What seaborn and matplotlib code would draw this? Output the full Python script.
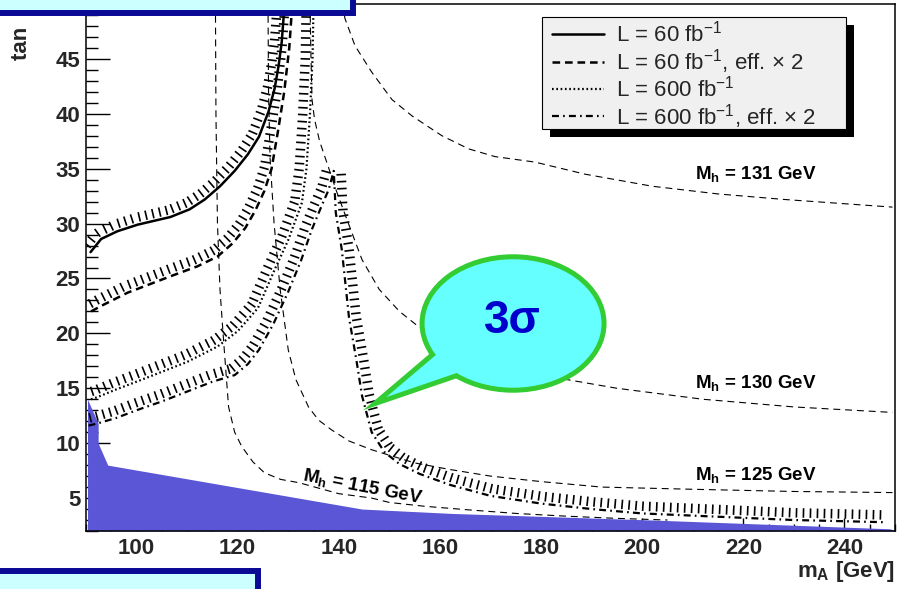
import numpy as np
import matplotlib
matplotlib.use("Agg")
import matplotlib.pyplot as plt
import seaborn as sns
from matplotlib.patches import Rectangle, Ellipse, Polygon
from matplotlib.collections import LineCollection

# ---- discovery contours (m_A [GeV], tan beta) ----
ma_60 = [90.9, 93.0, 96.2, 100.2, 106.7, 110.5, 113.5, 116.5, 119.4, 122.0,
         124.2, 126.1, 127.3, 128.1, 128.7, 129.1, 129.3]
tb_60 = [27.4, 28.6, 29.3, 29.9, 30.6, 31.3, 32.2, 33.4, 34.8, 36.3,
         37.9, 40.2, 42.3, 44.4, 46.5, 48.9, 50.0]

ma_60x2 = [91.0, 93.0, 98.2, 106.7, 112.0, 116.0, 119.0, 121.5, 123.5, 125.3,
           126.7, 128.0, 129.2, 130.2, 130.8]
tb_60x2 = [22.0, 22.5, 23.7, 25.2, 26.1, 27.0, 28.2, 29.6, 31.2, 33.0,
           35.0, 38.5, 42.0, 46.0, 50.0]

ma_600 = [91.0, 92.3, 96.0, 100.0, 105.0, 110.0, 116.0, 120.0, 124.0, 127.3,
          130.0, 132.7, 133.6, 134.3, 134.8, 135.0]
tb_600 = [14.0, 14.2, 14.9, 15.6, 16.5, 17.4, 18.8, 20.2, 22.3, 25.8,
          28.5, 31.9, 35.0, 40.0, 45.0, 50.0]

ma_600x2 = [90.5, 92.3, 96.0, 100.0, 105.0, 110.0, 115.0, 119.4, 122.0, 124.2,
            127.0, 130.0, 132.5, 134.7, 136.5, 138.0, 139.0, 139.4, 140.6, 142.0,
            143.5, 144.6, 146.5, 149.0, 152.0, 156.0, 162.0, 170.0, 180.0, 190.0,
            200.0, 215.0, 230.0, 248.0]
tb_600x2 = [11.6, 11.8, 12.3, 13.0, 13.8, 14.7, 15.6, 16.2, 17.2, 18.5,
            20.8, 23.8, 26.6, 29.5, 31.5, 33.1, 34.8, 31.0, 27.6, 21.5,
            17.5, 14.3, 11.0, 9.2, 8.1, 7.2, 6.2, 5.2, 4.5, 4.0,
            3.6, 3.3, 3.0, 2.8]

# ---- M_h iso-mass contours ----
ma_mh115 = [115.6, 115.7, 116.0, 116.5, 117.2, 118.2, 119.4, 120.8, 123.0, 125.3,
            128.5, 132.1, 140.0, 146.5, 150.0, 157.0, 165.0, 175.0, 185.0, 195.0, 205.0]
tb_mh115 = [50.0, 40.0, 30.0, 24.0, 19.4, 13.3, 11.0, 9.7, 8.3, 7.3,
            6.7, 6.4, 5.4, 5.0, 4.6, 4.25, 3.95, 3.6, 3.35, 3.15, 3.0]

ma_mh125 = [126.0, 126.1, 126.4, 127.2, 128.4, 130.0, 131.5, 134.0, 136.0, 138.6,
            142.0, 146.5, 150.0, 155.0, 162.0, 170.0, 180.0, 192.0, 210.0, 230.0, 249.5]
tb_mh125 = [50.0, 42.0, 36.0, 30.0, 24.0, 18.5, 15.8, 13.3, 12.1, 11.2,
            10.2, 9.4, 8.9, 8.2, 7.6, 7.0, 6.5, 6.0, 5.8, 5.6, 5.5]

ma_mh130 = [134.3, 134.5, 134.7, 135.2, 136.2, 137.9, 139.5, 141.5, 144.6, 148.0,
            152.0, 155.8, 162.0, 170.0, 178.0, 185.0, 195.0, 212.0, 230.0, 249.5]
tb_mh130 = [50.0, 45.0, 41.3, 39.5, 37.5, 35.2, 33.0, 30.5, 26.7, 24.0,
            22.0, 20.6, 19.0, 17.6, 16.5, 15.8, 15.0, 14.0, 13.3, 12.8]

ma_mh131 = [140.8, 141.2, 143.2, 146.5, 150.5, 154.5, 160.4, 165.7, 170.9, 178.8,
            188.7, 202.0, 215.0, 228.0, 249.5]
tb_mh131 = [50.0, 48.7, 46.2, 43.8, 41.3, 39.8, 38.0, 36.8, 36.1, 35.6,
            34.5, 33.4, 32.7, 32.2, 31.5]

# ---- theoretically excluded region ----
ma_excl = [90.3, 92.4, 92.4, 94.3, 144.6, 162.4, 202.0, 249.0, 250.0]
tb_excl = [14.0, 11.8, 10.0, 8.0, 4.0, 3.6, 3.0, 2.2, 2.05]

legend_labels = [r"L = 60 fb$^{-1}$", r"L = 60 fb$^{-1}$, eff. $\times$ 2",
                 r"L = 600 fb$^{-1}$", r"L = 600 fb$^{-1}$, eff. $\times$ 2"]
mh_labels = [r"M$_{\mathbf{h}}$ = 131 GeV", r"M$_{\mathbf{h}}$ = 130 GeV",
             r"M$_{\mathbf{h}}$ = 125 GeV", r"M$_{\mathbf{h}}$ = 115 GeV"]
x_ticks = [100, 120, 140, 160, 180, 200, 220, 240]
y_ticks = [5, 10, 15, 20, 25, 30, 35, 40, 45]

# ---------------------------------------------------------------------------
sns.set_theme(style="white")
plt.rcParams["font.family"] = ["Liberation Sans", "DejaVu Sans"]
plt.rcParams["mathtext.fontset"] = "custom"
plt.rcParams["mathtext.rm"] = "Liberation Sans"
plt.rcParams["mathtext.it"] = "Liberation Sans:italic"
plt.rcParams["mathtext.bf"] = "Liberation Sans:bold"
plt.rcParams["mathtext.sf"] = "Liberation Sans"
plt.rcParams["lines.scale_dashes"] = False
plt.rcParams["axes.unicode_minus"] = True

W, H = 898, 589
AX_L, AX_B, AX_W, AX_H = 86, 58, 809, 527
fig = plt.figure(figsize=(W / 100, H / 100), dpi=100)
fig.patch.set_facecolor("white")
ax = fig.add_axes([AX_L / W, AX_B / H, AX_W / W, AX_H / H])
ax.set_facecolor("white")
ax.set_xlim(90, 250)
ax.set_ylim(2, 50)

# excluded region
ax.fill_between(ma_excl, 2, tb_excl, color="#5a56d6", lw=0, zorder=1)

thin = dict(color="black", lw=0.8, linestyle=(0, (5.0, 3.5)), zorder=2)
for mx, ty in [(ma_mh115, tb_mh115), (ma_mh125, tb_mh125),
               (ma_mh130, tb_mh130), (ma_mh131, tb_mh131)]:
    sns.lineplot(x=mx, y=ty, sort=False, estimator=None, ax=ax, **thin)

styles = [
    dict(lw=1.8, linestyle="-"),
    dict(lw=1.8, linestyle=(0, (5.5, 3.5))),
    dict(lw=1.6, linestyle=(0, (1.2, 1.9))),
    dict(lw=1.6, linestyle=(0, (5.0, 3.0, 1.2, 3.0))),
]
curves = [(ma_60, tb_60), (ma_60x2, tb_60x2), (ma_600, tb_600), (ma_600x2, tb_600x2)]
handles = []
for (mx, ty), st in zip(curves, styles):
    sns.lineplot(x=mx, y=ty, sort=False, estimator=None, ax=ax,
                 color="black", zorder=3, **st)
    handles.append(ax.lines[-1])


def hatch(xs, ys, step=7.0, gap=2.5, length=9.5, lw=1.2):
    """Short strokes on the left-hand side of a contour (display space)."""
    P = ax.transData.transform(np.column_stack([xs, ys]))
    d = np.hypot(*np.diff(P, axis=0).T)
    s = np.concatenate([[0.0], np.cumsum(d)])
    si = np.arange(step * 0.5, s[-1], step)
    px = np.interp(si, s, P[:, 0])
    py = np.interp(si, s, P[:, 1])
    h = 3.0
    tx = np.interp(si + h, s, P[:, 0]) - np.interp(si - h, s, P[:, 0])
    ty = np.interp(si + h, s, P[:, 1]) - np.interp(si - h, s, P[:, 1])
    n = np.hypot(tx, ty)
    nx, ny = -ty / n, tx / n
    a = np.column_stack([px + nx * gap, py + ny * gap])
    b = np.column_stack([px + nx * (gap + length), py + ny * (gap + length)])
    inv = ax.transData.inverted()
    segs = np.stack([inv.transform(a), inv.transform(b)], axis=1)
    ax.add_collection(LineCollection(segs, colors="black", linewidths=lw,
                                     capstyle="butt", zorder=3))


for mx, ty in curves:
    hatch(mx, ty)

# iso-mass labels
lab_kw = dict(fontsize=13.5, fontweight="bold", color="black", zorder=6)
ax.text(210.5, 34.05, mh_labels[0], ha="left", va="baseline", **lab_kw)
ax.text(210.5, 15.05, mh_labels[1], ha="left", va="baseline", **lab_kw)
ax.text(210.5, 6.64, mh_labels[2], ha="left", va="baseline", **lab_kw)
ax.text(144.75, 6.05, mh_labels[3], ha="center", va="center",
        rotation=-11, rotation_mode="anchor", **lab_kw)

# axes styling (ROOT-like)
ax.set_xticks(x_ticks)
ax.set_xticks(np.arange(90, 251, 5), minor=True)
ax.set_yticks(y_ticks)
ax.set_yticks(np.arange(2, 51, 1), minor=True)
ax.tick_params(axis="y", which="major", direction="in", length=17.3, width=1.0,
               left=True, right=False, labelsize=16, pad=4, color="black")
ax.tick_params(axis="y", which="minor", direction="in", length=8.6, width=1.0,
               left=True, right=False, color="black")
ax.tick_params(axis="x", which="major", direction="in", length=9.5, width=1.0,
               bottom=True, top=False, labelsize=16, pad=5, color="black")
ax.tick_params(axis="x", which="minor", direction="in", length=5.0, width=1.0,
               bottom=True, top=False, color="black")
for lbl in ax.get_xticklabels() + ax.get_yticklabels():
    lbl.set_fontweight("bold")
for sp in ax.spines.values():
    sp.set_color("black")
    sp.set_linewidth(1.1)
    sp.set_visible(True)

ax.set_xlabel(r"m$_{\mathbf{A}}$ [GeV]", fontsize=16, fontweight="bold",
              loc="right")
ax.xaxis.set_label_coords(1.0, -0.087)
ax.xaxis.label.set_va("baseline")
ax.set_ylabel("tan  β", fontsize=16, fontweight="bold", loc="top")
ax.yaxis.set_label_coords(-0.073, 1.0066)
ax.yaxis.label.set_va("baseline")


def ax_frac(px, py):
    """Pixel position (from the figure's top-left) to axes fraction."""
    return (px - AX_L) / AX_W, (H - AX_B - py) / AX_H


# legend panel: grey box with a solid drop shadow, entries placed inside
bx0, by0 = ax_frac(542, 129)
bx1, by1 = ax_frac(846, 17)
sx, sy = 8 / AX_W, 8 / AX_H
ax.add_patch(Rectangle((bx0 + sx, by0 - sy), bx1 - bx0, by1 - by0,
                       transform=ax.transAxes, facecolor="black",
                       edgecolor="none", zorder=7.8, clip_on=False))
ax.add_patch(Rectangle((bx0, by0), bx1 - bx0, by1 - by0,
                       transform=ax.transAxes, facecolor="#f0f0f0",
                       edgecolor="black", lw=0.8, zorder=7.9, clip_on=False))
lx, ly = ax_frac(552, 21)
leg = ax.legend(handles, legend_labels, loc="upper left",
                bbox_to_anchor=(lx, ly), borderaxespad=0.0, frameon=False,
                fontsize=16, handlelength=2.35, handletextpad=0.55,
                labelspacing=0.0, borderpad=0.0)
leg.set_zorder(8)

# "3 sigma" callout bubble
tail = [(149.4, 14.2), (160.4, 18.5), (168.3, 19.0), (164.0, 16.5)]
ell_c, ell_w, ell_h = (174.46, 20.9), 35.0, 11.7
for fc, ec, lw, z in [("#66ffff", "#33cc33", 7.2, 10), ("#66ffff", "none", 0, 11)]:
    ax.add_patch(Ellipse(ell_c, ell_w, ell_h, facecolor=fc, edgecolor=ec,
                         lw=lw, zorder=z))
    ax.add_patch(Polygon(tail, closed=True, facecolor=fc, edgecolor=ec, lw=lw,
                         joinstyle="miter", zorder=z))
ax.text(174.3, 20.07, "3σ", ha="center", va="baseline", fontsize=33,
        fontweight="bold", color="#0000cc", zorder=12)

# framed caption panels at the figure edges
for (px0, py0, pw, ph) in [(-10, 576, 363, 30), (-10, -10, 267.5, 28.5)]:
    fig.add_artist(Rectangle((px0 / W, py0 / H), pw / W, ph / H,
                             transform=fig.transFigure, facecolor="#ccffff",
                             edgecolor="#0a0a96", lw=4.3, zorder=20))

fig.savefig("out.png", dpi=100)
